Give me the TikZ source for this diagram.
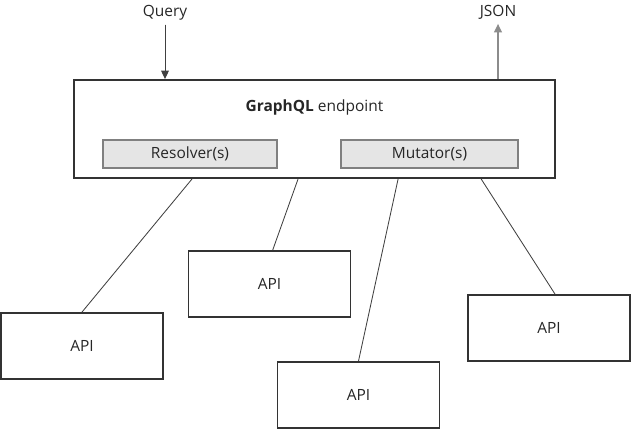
\documentclass[tikz,border=0pt]{standalone}
\usepackage{fontspec}
\setmainfont{Open Sans}
\usetikzlibrary{arrows.meta}

\tikzset{
  apibox/.style={draw=black!80, line width=1.3pt, minimum width=4.05cm, minimum height=1.65cm, text=black!85},
  part/.style={draw=black!50, fill=black!10, line width=0.9pt, minimum width=4.35cm, minimum height=0.7cm, text=black!85},
  link/.style={draw=black!75, line width=0.6pt}
}

\begin{document}
\begin{tikzpicture}[x=0.025cm,y=-0.025cm,>={Triangle[length=6pt,width=5.5pt]},font=\fontsize{11}{13}\selectfont]
\useasboundingbox (0,0) rectangle (631,429);

% endpoint
\node[draw=black!80,line width=1.3pt,minimum width=12.025cm,minimum height=2.45cm] (main) at (314.5,129) {};
\node[text=black!85]   (title) at (314.5,107)   {\textbf{GraphQL} endpoint};
\node[part]            (res)   at (190,154)     {Resolver(s)};
\node[part,minimum width=4.43cm] (mut) at (429.5,154) {Mutator(s)};

% apis
\node[apibox] (api1) at (82,346)    {API};
\node[apibox] (api2) at (269.5,284) {API};
\node[apibox] (api3) at (358.5,395) {API};
\node[apibox] (api4) at (549,328)   {API};

% in and out
\node[text=black!85,anchor=base] (query) at (165,16) {Query};
\node[text=black!85,anchor=base] (json)  at (498,16) {JSON};

\draw[->,draw=black!75,line width=0.7pt,fill=black!75] (query) -- (query |- main.north);
\draw[->,draw=black!45,line width=1pt,fill=black!75] (json |- main.north) -- (json);

\coordinate (m1) at ([xshift=2.975cm]main.south west);
\coordinate (m2) at ([xshift=5.625cm]main.south west);
\coordinate (m3) at ([xshift=8.125cm]main.south west);
\coordinate (m4) at ([xshift=10.2cm]main.south west);

\path[link] (m1) edge (api1.north)
            (m2) edge ([xshift=0.08cm]api2.north)
            (m3) edge (api3.north)
            (m4) edge ([xshift=0.15cm]api4.north);
\end{tikzpicture}
\end{document}
